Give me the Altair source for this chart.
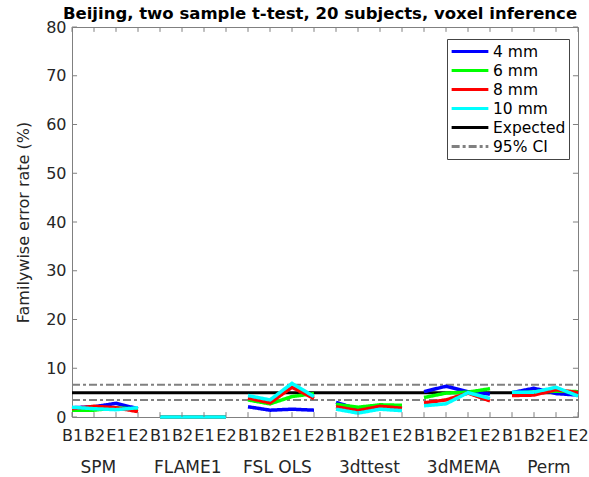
import altair as alt
import pandas as pd

# ---- data ----
groups = ["SPM", "FLAME1", "FSL OLS", "3dttest", "3dMEMA", "Perm"]
conditions = ["B1", "B2", "E1", "E2"]
series_names = ["4 mm", "6 mm", "8 mm", "10 mm"]

fwe_4mm = [1.9, 2.1, 2.8, 1.7,  0, 0, 0, 0,  2.1, 1.4, 1.6, 1.4,
           3.0, 1.6, 2.1, 1.8,  5.2, 6.3, 5.2, 4.7,  5.0, 5.9, 4.8, 4.5]
fwe_6mm = [1.4, 1.4, 1.9, 1.6,  0, 0, 0, 0,  3.5, 2.7, 4.2, 4.8,
           2.6, 2.0, 2.5, 2.4,  4.0, 4.9, 5.1, 5.8,  4.9, 5.1, 5.3, 5.2]
fwe_8mm = [1.7, 2.2, 1.9, 1.1,  0, 0, 0, 0,  3.9, 2.9, 6.1, 3.8,
           2.1, 1.3, 2.2, 1.8,  2.9, 3.5, 4.9, 3.3,  4.4, 4.5, 5.6, 5.0]
fwe_10mm = [2.0, 1.7, 1.5, 1.9,  0, 0, 0, 0,  4.4, 3.5, 6.9, 4.2,
            1.6, 0.8, 1.6, 1.3,  2.3, 2.7, 5.0, 3.8,  5.1, 5.1, 6.1, 4.3]
expected = 5.0
ci_low, ci_high = 3.5, 6.6

all_names = series_names + ["Expected", "95% CI"]
colors = ["#0000ff", "#00ff00", "#ff0000", "#00ffff", "#000000", "#808080"]
dashes = [[1, 0], [1, 0], [1, 0], [1, 0], [1, 0], [8, 3, 3, 3]]

# ---- build tables ----
rows = []
for name, vals in zip(series_names, [fwe_4mm, fwe_6mm, fwe_8mm, fwe_10mm]):
    for i, v in enumerate(vals):
        rows.append({"pos": i + 1, "group": groups[i // 4], "series": name, "fwe": v})
df = pd.DataFrame(rows)

ref_rows = []
for name, key, val in [("Expected", "e", expected), ("95% CI", "lo", ci_low), ("95% CI", "hi", ci_high)]:
    for p in (1, 24):
        ref_rows.append({"pos": p, "series": name, "key": key, "fwe": val})
ref_df = pd.DataFrame(ref_rows)

n = len(groups) * len(conditions)
tick_labels = conditions * len(groups)
xticks = pd.DataFrame({"pos": list(range(1, n + 1))})
yticks = pd.DataFrame({"fwe": list(range(0, 81, 10))})

GRAY = "#808080"
NB = "\u00a0"
gaps = [7, 4, 5, 5, 5]
xtitle = groups[0]
for g, word in zip(gaps, groups[1:]):
    xtitle += NB * g + word

label_js = "[" + ",".join("'%s'" % t for t in tick_labels) + "]"
xaxis = alt.Axis(values=list(range(1, n + 1)),
                 labelExpr=label_js + "[datum.value-1]",
                 title=xtitle, labelOverlap=False, labelFontSize=16,
                 labelPadding=10, titleFontSize=17, titleFontWeight="normal",
                 titlePadding=16, labelFlush=False, labelSeparation=0)
xscale = alt.Scale(domain=[1, n], nice=False, zero=False)
yaxis = alt.Axis(values=list(range(0, 81, 10)), title="Familywise error rate (%)",
                 labelFontSize=16, labelPadding=6, titleFontSize=16,
                 titleFontWeight="normal", titlePadding=14)
yscale = alt.Scale(domain=[0, 80], nice=False)


def xe(field):
    return alt.X(field + ":Q", scale=xscale, axis=xaxis)


def ye(field):
    return alt.Y(field + ":Q", scale=yscale, axis=yaxis)


color_scale = alt.Scale(domain=all_names, range=colors)
dash_scale = alt.Scale(domain=all_names, range=dashes)
legend = alt.Legend(title=None, orient="none", legendX=375, legendY=12,
                    symbolType="stroke", symbolSize=1350, symbolStrokeWidth=3,
                    clipHeight=19, labelFontSize=15.5, labelOffset=3, padding=3,
                    rowPadding=0, strokeColor="#444444", fillColor="white",
                    labelColor="#000000")

ref_base = alt.Chart(ref_df).encode(
    x=xe("pos"), y=ye("fwe"),
    color=alt.Color("series:N", scale=color_scale, legend=legend),
    strokeDash=alt.StrokeDash("series:N", scale=dash_scale, legend=legend),
    detail="key:N",
)
ref_layer_ci = ref_base.transform_filter(alt.datum.series == "95% CI").mark_line(strokeWidth=2)
ref_layer_exp = ref_base.transform_filter(alt.datum.series == "Expected").mark_line(strokeWidth=3)

layers = [ref_layer_ci, ref_layer_exp]
for name in series_names:
    layers.append(
        alt.Chart(df[df.series == name]).mark_line(strokeWidth=3.5).encode(
            x=xe("pos"), y=ye("fwe"),
            color=alt.Color("series:N", scale=color_scale, legend=legend),
            strokeDash=alt.StrokeDash("series:N", scale=dash_scale, legend=legend),
            detail="group:N",
        )
    )

# inward ticks on all four sides (lengths in data units ~5 px)
tick_bottom = alt.Chart(xticks).transform_calculate(a="0", b="1.0").mark_rule(
    color=GRAY, strokeWidth=1).encode(x=xe("pos"), y=ye("a"), y2="b:Q")
tick_top = alt.Chart(xticks).transform_calculate(a="80", b="79.0").mark_rule(
    color=GRAY, strokeWidth=1).encode(x=xe("pos"), y=ye("a"), y2="b:Q")
tick_left = alt.Chart(yticks).transform_calculate(a="1", b="1.23").mark_rule(
    color=GRAY, strokeWidth=1).encode(y=ye("fwe"), x=xe("a"), x2="b:Q")
tick_right = alt.Chart(yticks).transform_calculate(a="24", b="23.77").mark_rule(
    color=GRAY, strokeWidth=1).encode(y=ye("fwe"), x=xe("a"), x2="b:Q")

chart = alt.layer(*layers, tick_bottom, tick_top, tick_left, tick_right).properties(
    width=506, height=390,
    autosize=alt.AutoSizeParams(type="none"),
    padding={"left": 72, "top": 27, "right": 11, "bottom": 60},
    title=alt.TitleParams("Beijing, two sample t-test, 20 subjects, voxel inference",
                          fontSize=16.5, fontWeight="bold", anchor="middle", frame="group",
                          offset=-3, dx=-5, color="#000000"),
).configure(font="DejaVu Sans").configure_view(
    stroke=GRAY, strokeWidth=1
).configure_axis(
    grid=False, domain=False, ticks=False, labelColor="#262626", titleColor="#262626",
    labelFont="DejaVu Sans", titleFont="DejaVu Sans", labelOverlap=False
).configure_legend(labelFont="DejaVu Sans")

chart.save("out.html", embed_options={"renderer": "svg", "actions": False})
